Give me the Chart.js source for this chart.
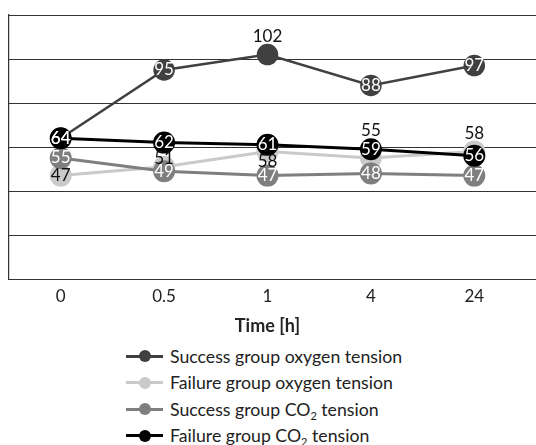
<!DOCTYPE html>
<html>
<head>
<meta charset="utf-8">
<script src="https://cdn.jsdelivr.net/npm/chart.js@4.4.0/dist/chart.umd.min.js"></script>
<style>
  html, body { margin: 0; padding: 0; background: #fff; }
  body { width: 536px; height: 445px; overflow: hidden; position: relative; font-family: Lato, sans-serif; }
  #wrap { position: absolute; left: 0; top: 0; width: 536px; height: 341px; }
  #legend { position: absolute; left: 126px; top: 343px; }
  .item { height: 26.5px; display: flex; align-items: center; font-size: 17.7px; color: #222; }
  .sw { position: relative; width: 37px; height: 20px; margin-right: 7px; }
  .sw .ln { position: absolute; left: 0; right: 0; top: 8.5px; height: 3px; }
  .sw .dt { position: absolute; left: 13px; top: 4px; width: 12px; height: 12px; border-radius: 50%; }
  sub { font-size: 11px; vertical-align: -4px; line-height: 0; }
</style>
</head>
<body>
<div id="wrap"><canvas id="chart"></canvas></div>
<div id="legend"></div>
<script>
// valeurs
const timeLabels = ["0", "0.5", "1", "4", "24"];
const successO2 = [64, 95, 102, 88, 97];
const failureO2 = [47, 51, 58, 55, 58];
const successCO2 = [55, 49, 47, 48, 47];
const failureCO2 = [64, 62, 61, 59, 56];
const yTicks = { min: 0, max: 120, step: 20 };

// placement des étiquettes (comme sur l'original, un peu à la main)
const alignSuccessO2 = ["center", "center", "above", "center", "center"];
const alignFailureO2 = ["center", "over", "below", "high", "above"];
const labelShift = { center: 0, over: -8, above: -18, high: -27, below: 10 };

Chart.defaults.font.family = "Lato, sans-serif";
Chart.defaults.font.size = 17;
Chart.defaults.color = "#222";

// quadrillage prolongé jusqu'au bord droit, comme sur l'original
const boxGrid = {
  id: "boxGrid",
  beforeDatasetsDraw(chart) {
    const { ctx, chartArea, scales } = chart;
    ctx.save();
    ctx.strokeStyle = "#333";
    ctx.lineWidth = 1.2;
    scales.y.ticks.forEach((t) => {
      const y = Math.round(scales.y.getPixelForValue(t.value)) + 0.5;
      ctx.beginPath();
      ctx.moveTo(chartArea.left, y);
      ctx.lineTo(chart.width, y);
      ctx.stroke();
    });
    ctx.restore();
  },
};

const pointLabels = {
  id: "pointLabels",
  afterDatasetsDraw(chart) {
    const ctx = chart.ctx;
    ctx.save();
    ctx.font = "17px Lato, sans-serif";
    ctx.textAlign = "center";
    ctx.textBaseline = "middle";
    chart.data.datasets.forEach((ds, i) => {
      const meta = chart.getDatasetMeta(i);
      meta.data.forEach((pt, j) => {
        const align = ds.labelAlign ? ds.labelAlign[j] : "center";
        ctx.fillStyle = align === "center" ? ds.labelColor : "#111";
        ctx.fillText(String(ds.data[j]), pt.x, pt.y + labelShift[align]);
      });
    });
    ctx.restore();
  },
};

const chart = new Chart(document.getElementById("chart"), {
  type: "line",
  data: {
    labels: timeLabels,
    datasets: [
      {
        label: "Success group oxygen tension",
        data: successO2,
        borderColor: "#404040",
        backgroundColor: "#404040",
        borderWidth: 2.5,
        pointRadius: 9.5,
        pointHoverRadius: 9.5,
        order: 3,
        labelColor: "#fff",
        labelAlign: alignSuccessO2,
      },
      {
        label: "Failure group oxygen tension",
        data: failureO2,
        borderColor: "#cacaca",
        backgroundColor: "#cacaca",
        borderWidth: 3,
        pointRadius: 9.5,
        pointHoverRadius: 9.5,
        order: 2,
        labelColor: "#111",
        labelAlign: alignFailureO2,
      },
      {
        label: "Success group CO2 tension",
        data: successCO2,
        borderColor: "#7f7f7f",
        backgroundColor: "#7f7f7f",
        borderWidth: 3,
        pointRadius: 9.5,
        pointHoverRadius: 9.5,
        order: 1,
        labelColor: "#fff",
      },
      {
        label: "Failure group CO2 tension",
        data: failureCO2,
        borderColor: "#000",
        backgroundColor: "#000",
        borderWidth: 3,
        pointRadius: 9.5,
        pointHoverRadius: 9.5,
        order: 0,
        labelColor: "#fff",
      },
    ],
  },
  options: {
    responsive: true,
    maintainAspectRatio: false,
    animation: false,
    layout: { autoPadding: false, padding: { top: 15, left: 9, right: 10, bottom: 4 } },
    plugins: {
      legend: { display: false },
      tooltip: { enabled: false },
    },
    scales: {
      x: {
        offset: true,
        grid: { display: false, drawTicks: false },
        border: { display: false },
        ticks: { padding: 7, font: { size: 17 }, color: "#222" },
        title: {
          display: true,
          text: "Time [h]",
          font: { size: 18, weight: "bold" },
          color: "#222",
          padding: { top: 2, bottom: 0 },
        },
      },
      y: {
        min: yTicks.min,
        max: yTicks.max,
        ticks: { display: false, stepSize: yTicks.step },
        grid: { display: false, drawTicks: false },
        border: { display: true, color: "#333", width: 1.2 },
      },
    },
  },
  plugins: [boxGrid, pointLabels],
});

// légende HTML, une ligne par série
const legend = document.getElementById("legend");
chart.data.datasets.forEach((ds) => {
  const row = document.createElement("div");
  row.className = "item";
  row.innerHTML = `
    <span class="sw"><span class="ln" style="background:${ds.borderColor}"></span><span class="dt" style="background:${ds.borderColor}"></span></span>
    <span>${ds.label.replace("CO2", "CO<sub>2</sub>")}</span>`;
  legend.appendChild(row);
});
</script>
</body>
</html>
